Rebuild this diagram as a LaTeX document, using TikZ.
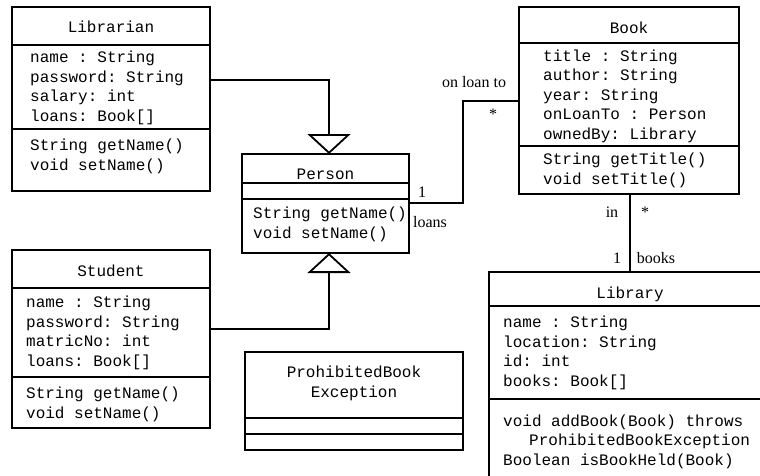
\documentclass[tikz,border=0pt]{standalone}
\usepackage{fontspec}
\setmainfont{Liberation Serif}
\setmonofont{Liberation Mono}
\usetikzlibrary{arrows.meta}

\begin{document}
\begin{tikzpicture}[x=1pt, y=-1pt,
    cls/.style={draw, line width=1.8pt, inner sep=0pt, outer sep=0pt, anchor=north west},
    sep/.style={line width=1.8pt},
    ctitle/.style={font=\fontsize{16}{19.5}\selectfont\ttfamily, inner sep=0pt, anchor=base, align=center},
    members/.style={font=\fontsize{16}{19.5}\selectfont\ttfamily, inner sep=0pt, anchor=base west, align=left},
    lbl/.style={font=\fontsize{16}{19}\selectfont, inner sep=0pt},
    assoc/.style={line width=1.8pt},
    inherit/.style={line width=1.8pt, -{Triangle[open, width=43pt, length=20pt]}}]
    \useasboundingbox (0,0) rectangle (760,475);
    \clip (0,0) rectangle (760,475);

    % class boxes
    \node[cls, minimum width=198pt, minimum height=184pt] (librarian) at (12,7)   {};
    \node[cls, minimum width=167pt, minimum height=99pt]  (person)    at (242,154) {};
    \node[cls, minimum width=220pt, minimum height=187pt] (book)      at (519,7)   {};
    \node[cls, minimum width=198pt, minimum height=178pt] (student)   at (12,250)  {};
    \node[cls, minimum width=218pt, minimum height=98pt]  (prohibited) at (245,352) {};
    \node[cls, minimum width=282pt, minimum height=220pt] (library)   at (489,272) {};

    % compartments
    \draw[sep] (librarian.west |- 0,45)  -- (librarian.east |- 0,45);
    \draw[sep] (librarian.west |- 0,129) -- (librarian.east |- 0,129);
    \draw[sep] (person.west |- 0,183)    -- (person.east |- 0,183);
    \draw[sep] (person.west |- 0,199)    -- (person.east |- 0,199);
    \draw[sep] (book.west |- 0,43)       -- (book.east |- 0,43);
    \draw[sep] (book.west |- 0,146)      -- (book.east |- 0,146);
    \draw[sep] (student.west |- 0,288)   -- (student.east |- 0,288);
    \draw[sep] (student.west |- 0,377)   -- (student.east |- 0,377);
    \draw[sep] (prohibited.west |- 0,418) -- (prohibited.east |- 0,418);
    \draw[sep] (prohibited.west |- 0,434) -- (prohibited.east |- 0,434);
    \draw[sep] (library.west |- 0,306)   -- (library.east |- 0,306);
    \draw[sep] (library.west |- 0,399)   -- (library.east |- 0,399);

    % names and members (placed at the baseline of the last line)
    \node[ctitle] (librarianName) at (111,32) {Librarian};
    \node[members] (librarianAttr) at (30,121) {name : String\\password: String\\salary: int\\loans: Book[]};
    \node[members] (librarianOps) at (30,170) {String getName()\\void setName()};

    \node[ctitle] (personName) at (325.5,179) {Person};
    \node[members] (personOps) at (253,238) {String getName()\\void setName()};

    \node[ctitle] (bookName) at (629,33) {Book};
    \node[members] (bookAttr) at (543,139) {title : String\\author: String\\year: String\\onLoanTo : Person\\ownedBy: Library};
    \node[members] (bookOps) at (543,184) {String getTitle()\\void setTitle()};

    \node[ctitle] (studentName) at (111,276) {Student};
    \node[members] (studentAttr) at (26,366) {name : String\\password: String\\matricNo: int\\loans: Book[]};
    \node[members] (studentOps) at (26,418) {String getName()\\void setName()};

    \node[ctitle] (prohibitedName) at (354,397) {ProhibitedBook\\Exception};

    \node[ctitle] (libraryName) at (630,298) {Library};
    \node[members] (libraryAttr) at (503,386) {name : String\\location: String\\id: int\\books: Book[]};
    \node[members] (libraryOps) at (503,465) {void addBook(Book) throws\\\hspace*{26pt}ProhibitedBookException\\Boolean isBookHeld(Book)};

    % generalisation
    \draw[inherit] (librarian.east |- 0,80) -| (person.north -| 329,0);
    \draw[inherit] (student.east |- 0,329) -| (person.south -| 329,0);

    % associations
    \draw[assoc] (person.east |- 0,203) -| (463,101) -- (book.west |- 0,101);
    \draw[assoc] (book.south -| 630,0) -- (library.north);

    \node[lbl] (loanRole)  at (474,82)  {on loan to};
    \node[lbl] (loanMany)  at (493,114) {*};
    \node[lbl] (loanOne)   at (422,192) {1};
    \node[lbl] (loansRole) at (430,222) {loans};
    \node[lbl] (inRole)    at (612,212) {in};
    \node[lbl] (inMany)    at (645,212) {*};
    \node[lbl] (booksOne)  at (617,258) {1};
    \node[lbl] (booksRole) at (656,258) {books};
\end{tikzpicture}
\end{document}
